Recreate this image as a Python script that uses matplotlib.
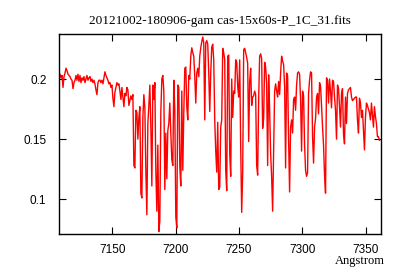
import numpy as np
import matplotlib
matplotlib.use("Agg")
import matplotlib.pyplot as plt
from matplotlib.ticker import FuncFormatter

# 
# Spectrum (linear dispersion, like CRVAL1/CDELT1 in the fits header)
# 
title = "20121002-180906-gam cas-15x60s-P_1C_31.fits"
crval1 = 7108.8
cdelt1 = 0.7874

flux = [
    0.204, 0.201, 0.203, 0.193, 0.202, 0.205, 0.209, 0.207, 0.204, 0.203,
    0.202, 0.200, 0.199, 0.192, 0.197, 0.199, 0.203, 0.199, 0.204, 0.198,
    0.203, 0.197, 0.201, 0.199, 0.202, 0.197, 0.200, 0.203, 0.199, 0.201,
    0.202, 0.198, 0.200, 0.197, 0.199, 0.196, 0.191, 0.187, 0.197, 0.199,
    0.199, 0.197, 0.199, 0.196, 0.201, 0.206, 0.203, 0.201, 0.199, 0.196,
    0.197, 0.193, 0.195, 0.184, 0.177, 0.189, 0.193, 0.197, 0.195, 0.196,
    0.190, 0.183, 0.193, 0.185, 0.177, 0.188, 0.186, 0.193, 0.191, 0.178,
    0.182, 0.186, 0.183, 0.187, 0.128, 0.126, 0.174, 0.172, 0.150, 0.168,
    0.177, 0.105, 0.101, 0.168, 0.187, 0.176, 0.123, 0.087, 0.163, 0.178,
    0.195, 0.160, 0.111, 0.195, 0.183, 0.197, 0.123, 0.090, 0.145, 0.073,
    0.082, 0.173, 0.200, 0.203, 0.190, 0.108, 0.155, 0.117, 0.157, 0.163,
    0.180, 0.155, 0.133, 0.128, 0.199, 0.174, 0.085, 0.076, 0.195, 0.193,
    0.127, 0.111, 0.190, 0.124, 0.172, 0.209, 0.210, 0.177, 0.166, 0.203,
    0.200, 0.219, 0.226, 0.222, 0.219, 0.202, 0.180, 0.205, 0.209, 0.202,
    0.219, 0.226, 0.231, 0.235, 0.230, 0.166, 0.230, 0.232, 0.229, 0.205,
    0.173, 0.205, 0.2265, 0.229, 0.216, 0.166, 0.140, 0.1225, 0.164, 0.108,
    0.110, 0.160, 0.166, 0.2256, 0.222, 0.216, 0.124, 0.107, 0.219, 0.220,
    0.138, 0.119, 0.200, 0.168, 0.190, 0.188, 0.216, 0.214, 0.194, 0.185,
    0.216, 0.144, 0.089, 0.122, 0.2245, 0.2256, 0.222, 0.218, 0.213, 0.148,
    0.198, 0.209, 0.178, 0.185, 0.186, 0.190, 0.187, 0.128, 0.120, 0.183,
    0.219, 0.221, 0.217, 0.159, 0.167, 0.214, 0.210, 0.196, 0.128, 0.2035,
    0.174, 0.138, 0.1185, 0.090, 0.138, 0.190, 0.196, 0.190, 0.185, 0.198,
    0.187, 0.205, 0.219, 0.215, 0.212, 0.194, 0.126, 0.205, 0.203, 0.149,
    0.106, 0.160, 0.166, 0.155, 0.183, 0.185, 0.174, 0.195, 0.205, 0.206,
    0.204, 0.183, 0.140, 0.190, 0.186, 0.145, 0.124, 0.119, 0.122, 0.188,
    0.199, 0.206, 0.205, 0.152, 0.130, 0.160, 0.167, 0.185, 0.188, 0.171,
    0.197, 0.194, 0.178, 0.160, 0.145, 0.120, 0.105, 0.201, 0.199, 0.180,
    0.200, 0.190, 0.176, 0.199, 0.198, 0.185, 0.174, 0.150, 0.195, 0.192,
    0.177, 0.160, 0.188, 0.192, 0.154, 0.146, 0.185, 0.163, 0.188, 0.191,
    0.192, 0.193, 0.185, 0.182, 0.183, 0.184, 0.185, 0.185, 0.166, 0.155,
    0.184, 0.180, 0.168, 0.174, 0.158, 0.141, 0.168, 0.180, 0.178, 0.175,
    0.172, 0.166, 0.180, 0.170, 0.160, 0.177, 0.169, 0.163, 0.152, 0.152, 0.149,
]

xticks = [7150, 7200, 7250, 7300, 7350]
yticks = [0.1, 0.15, 0.2]

wave = crval1 + cdelt1 * np.arange(len(flux))

fig = plt.figure(figsize=(4.0, 2.8), dpi=100)
ax = fig.add_axes([0.1475, 0.1643, 0.805, 0.7143])

ax.plot(wave, flux, color='red', linewidth=1.0)

ax.set_xlim(7108, 7362)
ax.set_ylim(0.071, 0.2375)
ax.set_xticks(xticks)
ax.set_yticks(yticks)
ax.yaxis.set_major_formatter(FuncFormatter(lambda v, p: ('%g' % v)))

# gnuplot look: inward ticks mirrored on all sides
ax.tick_params(direction='in', length=5, width=0.8, top=True, right=True,
               labelsize=8.5, colors='black')
ax.tick_params(axis='x', pad=7)
ax.tick_params(axis='y', pad=9)
for lab in ax.get_xticklabels() + ax.get_yticklabels():
    lab.set_family('Liberation Sans')
for s in ax.spines.values():
    s.set_linewidth(1.0)

ax.set_title(title, fontsize=9.5, family='Liberation Serif', pad=7)
fig.text(0.962, 0.057, "Angstrom", ha='right', va='baseline',
         fontsize=9, family='Liberation Serif')

plt.savefig("out.png")
plt.close()
